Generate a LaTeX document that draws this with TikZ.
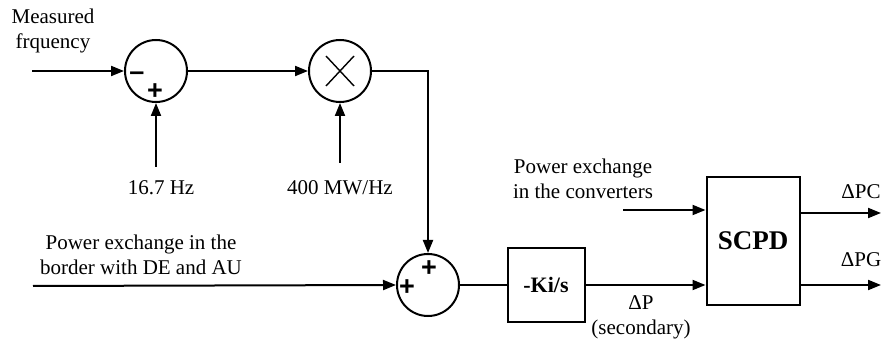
\documentclass[tikz,border=0pt]{standalone}
\usepackage{fontspec}
\setmainfont{Liberation Serif}
\newfontfamily\signfont{Liberation Sans}
\usetikzlibrary{arrows.meta,positioning}

\begin{document}
\begin{tikzpicture}[x=1pt,y=-1pt,
    every node/.style={font=\fontsize{21}{25}\selectfont, align=center},
    sumnode/.style={circle, draw, line width=2pt, minimum size=62pt, inner sep=0pt},
    block/.style={rectangle, draw, line width=2pt, font=\fontsize{22}{26}\selectfont\bfseries},
    sign/.style={font=\fontsize{27}{27}\signfont\bfseries, inner sep=0pt},
    arrow/.style={-{Triangle[length=13pt,width=10pt]}, line width=2pt},
    line/.style={line width=2pt}
]
    \useasboundingbox (0,0) rectangle (882,344);

    % summing points and blocks
    \node[sumnode] (sub) at (156,71) {};
    \node[sumnode] (mul) at (340,71) {};
    \node[sumnode] (sum) at (428,285) {};
    \node[block, minimum width=77pt, minimum height=73pt] (ki) at (546,285) {-Ki/s};
    \node[block, minimum width=93pt, minimum height=128pt, font=\fontsize{27}{30}\selectfont\bfseries] (scpd) at (753,241) {SCPD};

    \draw[line width=1.4pt] (mul.center) +(-14,-15) -- +(14,15);
    \draw[line width=1.4pt] (mul.center) +(-14,15) -- +(14,-15);

    % signs
    \node[sign] (subminus) at (137,76) {–};
    \node[sign] (subplus) at (155,92) {+};
    \node[sign] (sumtop) at (429,269) {+};
    \node[sign] (sumleft) at (407,288) {+};

    % free ends
    \coordinate (fin) at (32,71);
    \coordinate (fref) at (156,167);
    \coordinate (fgain) at (340,163);
    \coordinate (pin) at (33,286);
    \coordinate (cin) at (623,210);
    \coordinate (pcout) at (881,213);
    \coordinate (pgout) at (881,285);

    % labels
    \node (lblfreq) at (53,31) {Measured\\frquency};
    \node (lblref) at (161,188) {16.7 Hz};
    \node (lblgain) at (340,188) {400 MW/Hz};
    \node (lblborder) at (141,255) {Power exchange in the\\border with DE and AU};
    \node (lblconv) at (583,179) {Power exchange\\in the converters};
    \node (lbldp) at (641,317) {ΔP\\(secondary)};
    \node (lblpc) at (861,192) {ΔPC};
    \node (lblpg) at (861,260) {ΔPG};

    % connectors
    \draw[arrow] (fin) -- (sub.west);
    \draw[arrow] (fref) -- (sub.south);
    \draw[arrow] (sub.east) -- (mul.west);
    \draw[arrow] (fgain) -- (mul.south);
    \draw[arrow] (mul.east) -| (sum.north);
    \draw[arrow] (pin) -- (sum.west);
    \draw[line] (sum.east) -- (ki.west);
    \draw[arrow] (ki.east) -- (ki.east -| scpd.west);
    \draw[arrow] (cin) -- (cin -| scpd.west);
    \draw[arrow] (pcout -| scpd.east) -- (pcout);
    \draw[arrow] (pgout -| scpd.east) -- (pgout);
\end{tikzpicture}
\end{document}
